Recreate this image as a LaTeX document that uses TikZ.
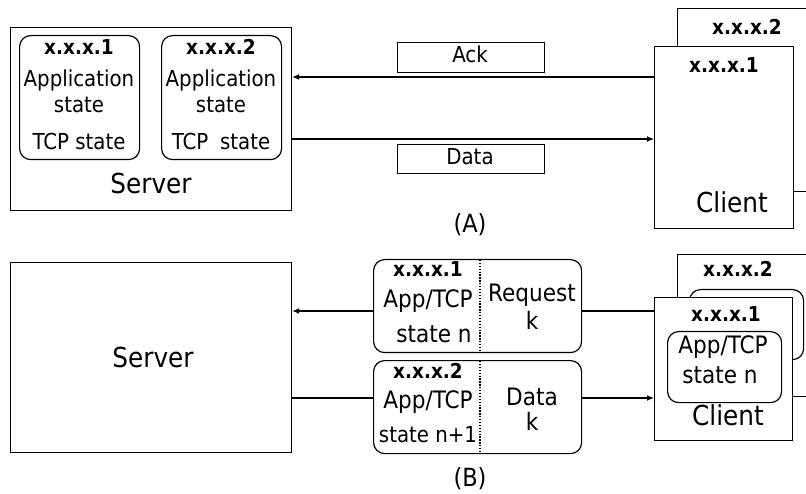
\documentclass[tikz,border=0pt]{standalone}
\usepackage{fontspec}
\setmainfont{DejaVu Sans Condensed}
\usetikzlibrary{arrows.meta}
\begin{document}
\begin{tikzpicture}[x=1pt,y=-1pt,
  lbl/.style={inner sep=0pt, anchor=base, font=\fontsize{22}{22}\selectfont},
  lblb/.style={inner sep=0pt, anchor=base, font=\fontsize{24}{24}\selectfont},
  ip/.style={inner sep=0pt, anchor=base, font=\bfseries\fontsize{20.5}{20.5}\selectfont},
  big/.style={inner sep=0pt, anchor=base, font=\fontsize{27.5}{27.5}\selectfont},
  box/.style={draw, line width=1.2pt, fill=white, inner sep=0pt, anchor=north west},
  rbox/.style={box, rounded corners=11pt},
  arr/.style={line width=1.2pt, -{Latex[length=7pt,width=6pt]}},
  wire/.style={line width=1.2pt},
  divider/.style={line width=1.3pt, dash pattern=on 1.3pt off 1.6pt}]
\useasboundingbox (0,0) rectangle (806,494);

% ---------------- (A) ----------------
\node[box, minimum width=281pt, minimum height=183pt] (srvA) at (10,27) {};
\node[rbox, minimum width=120pt, minimum height=124pt] (stA1) at (19,35) {};
\node[rbox, minimum width=120pt, minimum height=124pt] (stA2) at (161,35) {};
\node[ip]  (stA1ip)  at (79,55)  {x.x.x.1};
\node[lbl] (stA1app) at (79,87)  {Application};
\node[lbl] (stA1st)  at (79,113) {state};
\node[lbl] (stA1tcp) at (79,150) {TCP state};
\node[ip]  (stA2ip)  at (221,55)  {x.x.x.2};
\node[lbl] (stA2app) at (221,87)  {Application};
\node[lbl] (stA2st)  at (221,113) {state};
\node[lbl] (stA2tcp) at (221,150) {TCP\hspace{0.25em} state};
\node[big] (srvAlbl) at (151,194) {Server};

% clients
\node[box, minimum width=150pt, minimum height=183pt] (cliA2) at (677,8) {};
\node[ip] (cliA2ip) at (747,35) {x.x.x.2};
\node[box, minimum width=139pt, minimum height=182pt] (cliA1) at (654,46) {};
\node[ip] (cliA1ip) at (724,73) {x.x.x.1};
\node[big] (cliA1lbl) at (732,213) {Client};

% messages
\node[box, minimum width=147pt, minimum height=30pt] (ack) at (397,42) {};
\node[lbl] (acklbl) at (470,63) {Ack};
\node[box, minimum width=147pt, minimum height=29pt] (dataA) at (397,144) {};
\node[lbl] (dataAlbl) at (470,165) {Data};

\coordinate (ackY) at (0,77);
\coordinate (datY) at (0,139);
\draw[arr] (cliA1.west |- ackY) -- (srvA.east |- ackY);
\draw[arr] (srvA.east |- datY) -- (cliA1.west |- datY);

\node[big, font=\fontsize{25}{25}\selectfont] (capA) at (470,233) {(A)};

% ---------------- (B) ----------------
\node[box, minimum width=281pt, minimum height=190pt] (srvB) at (10,262) {};
\node[big] (srvBlbl) at (153,367) {Server};

% request in flight
\node[rbox, minimum width=208pt, minimum height=93pt] (reqB) at (373,259) {};
\draw[divider] (480,260) -- (480,351);
\node[ip]   (reqip)  at (428,277) {x.x.x.1};
\node[lblb] (reqapp) at (428,308) {App/TCP};
\node[lblb] (reqst)  at (434,342) {state n};
\node[lblb] (reqlbl) at (532,302) {Request};
\node[lblb] (reqk)   at (532,330) {k};

% data in flight
\node[rbox, minimum width=208pt, minimum height=93pt] (datB) at (373,360) {};
\draw[divider] (480,361) -- (480,452);
\node[ip]   (datip)  at (428,378) {x.x.x.2};
\node[lblb] (datapp) at (428,408) {App/TCP};
\node[lblb, font=\fontsize{22}{22}\selectfont] (datst) at (428,442) {state n+1};
\node[lblb] (datlbl) at (532,405) {Data};
\node[lblb] (datk)   at (532,430) {k};

% clients
\node[box, minimum width=150pt, minimum height=142pt] (cliB2) at (677,254) {};
\node[ip] (cliB2ip) at (738,277) {x.x.x.2};
\node[rbox, minimum width=114pt, minimum height=70pt] (cliB2st) at (689,289) {};
\node[box, minimum width=138pt, minimum height=143pt] (cliB1) at (654,297) {};
\node[ip] (cliB1ip) at (726,322) {x.x.x.1};
\node[rbox, minimum width=114pt, minimum height=71pt] (cliB1st) at (667,331) {};
\node[lblb] (cliB1app) at (723,353) {App/TCP};
\node[lblb] (cliB1sn)  at (720,383) {state n};
\node[big] (cliB1lbl) at (728,425) {Client};

\coordinate (reqY) at (0,311);
\coordinate (dY) at (0,398);
\draw[wire] (cliB1.west |- reqY) -- (reqB.east |- reqY);
\draw[arr] (reqB.west |- reqY) -- (srvB.east |- reqY);
\draw[wire] (srvB.east |- dY) -- (datB.west |- dY);
\draw[arr] (datB.east |- dY) -- (cliB1.west |- dY);

\node[big, font=\fontsize{25}{25}\selectfont] (capB) at (470,486) {(B)};
\end{tikzpicture}
\end{document}
